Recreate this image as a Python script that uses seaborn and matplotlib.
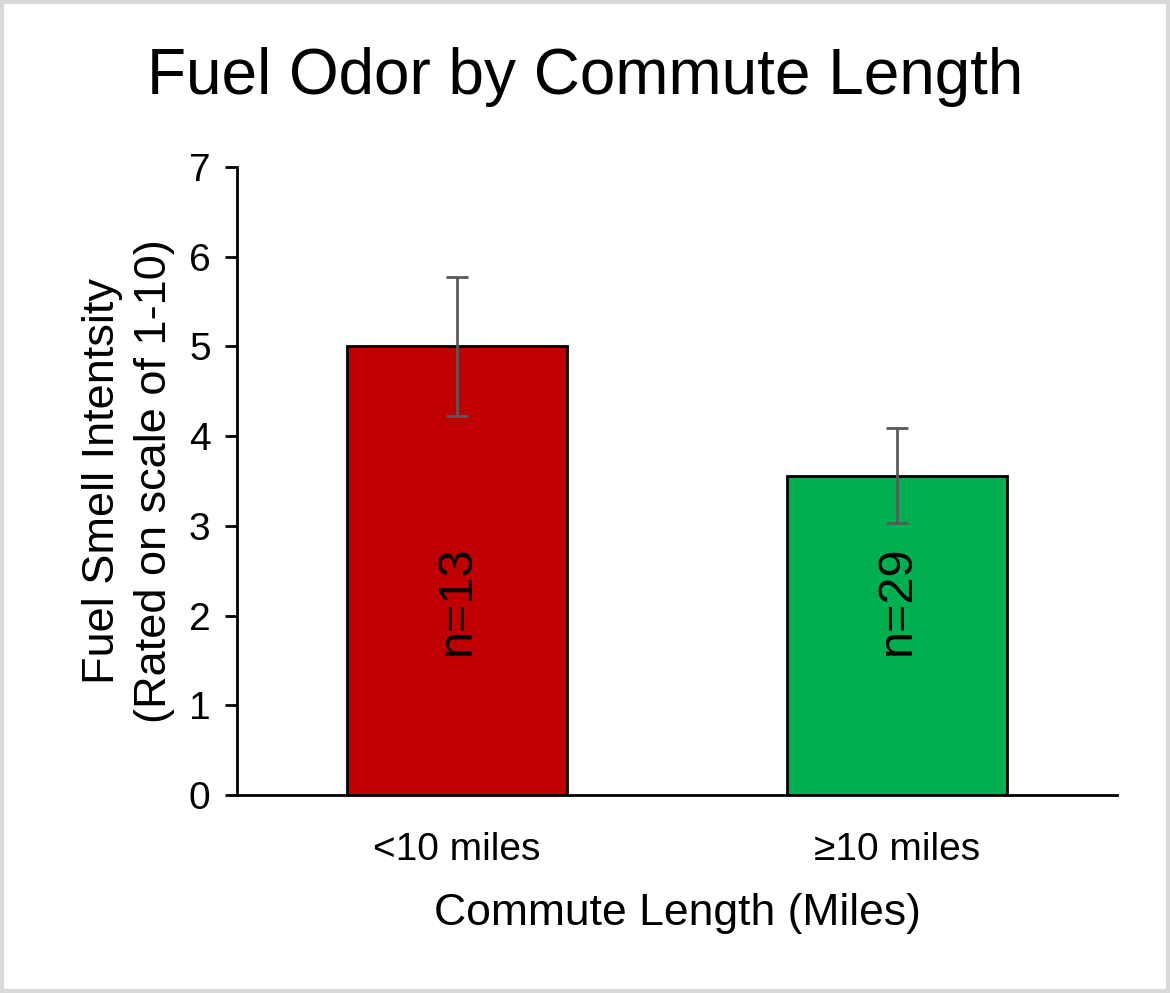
import matplotlib
matplotlib.use("Agg")
import matplotlib.pyplot as plt
import seaborn as sns
import pandas as pd
from matplotlib.patches import Rectangle

categories = ["<10 miles", "≥10 miles"]
means = [5.0, 3.56]
errors = [0.77, 0.53]
n_labels = ["n=13", "n=29"]
colors = ["#C00000", "#00B050"]

sns.set_style("white")
plt.rcParams['font.family'] = ['Liberation Sans', 'DejaVu Sans']
plt.rcParams['text.color'] = 'black'
plt.rcParams['axes.labelcolor'] = 'black'
plt.rcParams['xtick.color'] = 'black'
plt.rcParams['ytick.color'] = 'black'

fig = plt.figure(figsize=(11.7, 9.93), dpi=100)
ax = fig.add_axes([237/1170, (993-795)/993, (1117-237)/1170, (795-167)/993])

df = pd.DataFrame({"cat": categories, "val": means})
sns.barplot(data=df, x="cat", y="val", hue="cat", palette=colors, legend=False,
            width=0.5, edgecolor="black", linewidth=2, ax=ax, errorbar=None,
            saturation=1)
ax.errorbar(range(len(categories)), means, yerr=errors, fmt="none",
            ecolor="#595959", elinewidth=2, capsize=8, capthick=2)

for i, lab in enumerate(n_labels):
    ax.text(i, 2.17, lab, rotation=90, ha="center", va="center", fontsize=35, color="black")

ax.set_ylim(0, 7)
ax.set_xlim(-0.5, 1.5)
ax.set_yticks(range(0, 8))
ax.tick_params(axis="y", length=9, width=2, direction="out", labelsize=28, pad=10, left=True)
ax.tick_params(axis="x", length=0, labelsize=28, pad=27)
for s in ["top", "right"]:
    ax.spines[s].set_visible(False)
for s in ["left", "bottom"]:
    ax.spines[s].set_linewidth(2)
    ax.spines[s].set_color("black")

ax.set_xlabel("Commute Length (Miles)", fontsize=32, labelpad=18)
ax.set_ylabel("Fuel Smell Intentsity\n(Rated on scale of 1-10)", fontsize=32.5, labelpad=10, linespacing=1.35)
fig.suptitle("Fuel Odor by Commute Length", fontsize=46, y=0.953)

fig.patches.append(Rectangle((0.0015, 0.002), 0.997, 0.996, transform=fig.transFigure,
                             fill=False, edgecolor="#d9d9d9", linewidth=3))
fig.savefig("out.png", dpi=100)
